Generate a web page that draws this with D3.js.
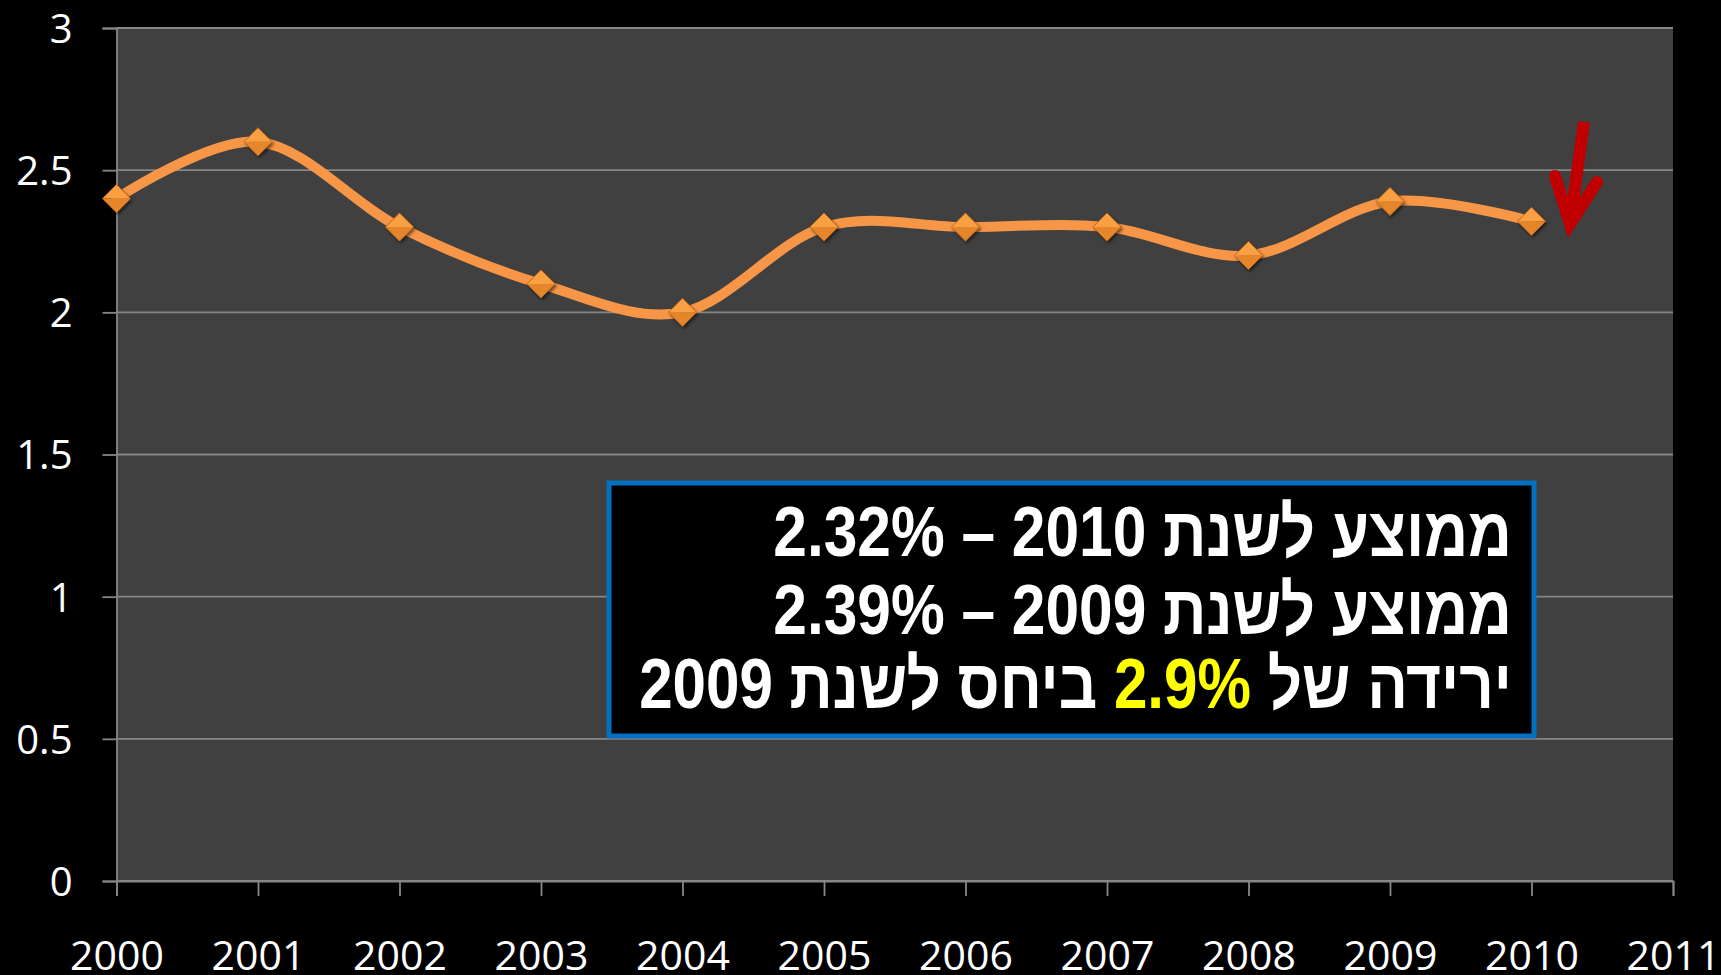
<!DOCTYPE html>
<html><head><meta charset="utf-8">
<script src="https://cdn.jsdelivr.net/npm/d3@7/dist/d3.min.js"></script>
<style>
html,body{margin:0;padding:0;background:#000;}
svg{display:block;}
</style></head>
<body>
<svg id="chart" width="1721" height="975"></svg>
<script>
const years = [2000,2001,2002,2003,2004,2005,2006,2007,2008,2009,2010];
const values = [2.4,2.6,2.3,2.1,2.0,2.3,2.3,2.3,2.2,2.39,2.32];
const xTicks = [2000,2001,2002,2003,2004,2005,2006,2007,2008,2009,2010,2011];
const yTicks = [0,0.5,1,1.5,2,2.5,3];
const boxLines = [
  [{t:"ממוצע לשנת 2010 – 2.32%"}],
  [{t:"ממוצע לשנת 2009 – 2.39%"}],
  [{t:"ירידה של "},{t:"2.9%",hl:true},{t:" ביחס לשנת 2009"}]
];

const svg = d3.select("#chart");
const L=116.5, R=1673, T=28, B=881;
const x = d3.scaleLinear().domain([2000,2011]).range([L,R]);
const y = d3.scaleLinear().domain([0,3]).range([B,T]);

const defs = svg.append("defs");
const f = defs.append("filter").attr("id","sh").attr("x","-50%").attr("y","-50%").attr("width","200%").attr("height","200%");
f.append("feDropShadow").attr("dx",1.5).attr("dy",2).attr("stdDeviation",1.5).attr("flood-color","#000").attr("flood-opacity",0.55);

svg.append("rect").attr("width",1721).attr("height",975).attr("fill","#000");
svg.append("rect").attr("x",L).attr("y",T).attr("width",R-L).attr("height",B-T).attr("fill","#404040");

// gridlines
svg.append("g").selectAll("line").data(yTicks).join("line")
  .attr("x1",L).attr("x2",R).attr("y1",d=>y(d)).attr("y2",d=>y(d))
  .attr("stroke","#868686").attr("stroke-width",1.8);

// y axis
const ya = svg.append("g").attr("transform",`translate(${L},0)`)
  .call(d3.axisLeft(y).tickValues(yTicks).tickSize(14).tickPadding(30).tickFormat(d=>String(d)));
ya.select(".domain").attr("stroke","#868686").attr("stroke-width",1.8);
ya.selectAll(".tick line").attr("stroke","#868686").attr("stroke-width",1.8);
ya.selectAll(".tick text").attr("fill","#fff").attr("font-family","'Open Sans', sans-serif")
  .attr("font-size",40).attr("dy","0.36em").attr("x",-44);

// x axis
const xa = svg.append("g").attr("transform",`translate(0,${B})`)
  .call(d3.axisBottom(x).tickValues(xTicks).tickSize(15).tickFormat(d=>String(d)));
xa.select(".domain").attr("stroke","#868686").attr("stroke-width",1.8);
xa.selectAll(".tick line").attr("stroke","#868686").attr("stroke-width",1.8);
xa.selectAll(".tick text").attr("fill","#fff").attr("font-family","'Open Sans', sans-serif")
  .attr("font-size",41).attr("dy",0).attr("y",89);

// line
const data = years.map((yr,i)=>({yr, v:values[i]}));
const line = d3.line().x(d=>x(d.yr)).y(d=>y(d.v)).curve(d3.curveCardinal.tension(0));
svg.append("path").datum(data).attr("d",line).attr("fill","none")
  .attr("stroke","#F79646").attr("stroke-width",10).attr("stroke-linecap","round");

// markers
const s = 14;
const mk = svg.append("g").selectAll("g").data(data).join("g")
  .attr("transform",d=>`translate(${x(d.yr)},${y(d.v)})`).attr("filter","url(#sh)");
mk.append("path").attr("d",`M${-s},0L0,${-s}L${s},0Z`).attr("fill","#F9A043");
mk.append("path").attr("d",`M${-s},0L0,${s}L${s},0Z`).attr("fill","#E5862C");
mk.append("path").attr("d",`M${-s},0L0,${-s}L${s},0L0,${s}Z`).attr("fill","none").attr("stroke","#C46A1C").attr("stroke-width",1);

// red arrow
svg.append("path").attr("d","M1584,122L1570,224").attr("stroke","#C00000").attr("stroke-width",12).attr("fill","none");
svg.append("path").attr("d","M1555,176L1570,224L1597,182").attr("stroke","#C00000").attr("stroke-width",12)
  .attr("fill","none").attr("stroke-linecap","round").attr("stroke-linejoin","miter");

// text box
svg.append("rect").attr("x",609).attr("y",483).attr("width",925).attr("height",253)
  .attr("fill","#000").attr("stroke","#0070C0").attr("stroke-width",5);
const baselines=[556,634,708];
const widths=[739,739,873];
const rightX=1512;
boxLines.forEach((parts,i)=>{
  const g = svg.append("g");
  const t = g.append("text").attr("x",rightX).attr("y",baselines[i])
    .attr("direction","rtl").attr("text-anchor","start")
    .attr("font-family","'Liberation Sans', Arial, sans-serif").attr("font-weight","bold")
    .attr("font-size",70).attr("fill","#fff");
  parts.forEach(p=>{ t.append("tspan").attr("fill",p.hl?"#FFFF00":"#fff").text(p.t); });
  const w = t.node().getComputedTextLength();
  const k = widths[i]/w;
  g.attr("transform",`translate(${rightX},0) scale(${k},1) translate(${-rightX},0)`);
});
</script>
</body></html>
